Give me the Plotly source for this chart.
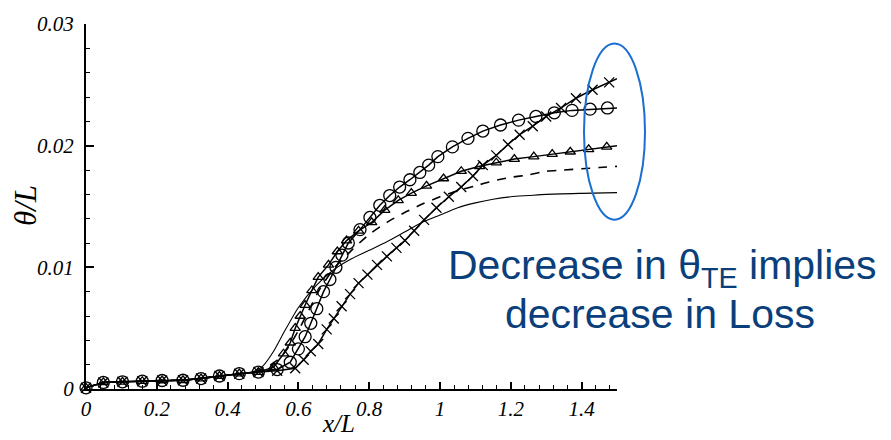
import plotly.graph_objects as go

# ---------------- data ----------------
x_thin = [0.0, 0.05, 0.1, 0.15, 0.2, 0.25, 0.3, 0.35, 0.4, 0.45, 0.48, 0.5, 0.53, 0.56, 0.6, 0.65, 0.7, 0.75, 0.8,
          0.85, 0.9, 0.95, 1.0, 1.05, 1.1, 1.15, 1.2, 1.25, 1.3, 1.4, 1.5]
y_thin = [0.0001, 0.00052, 0.0006, 0.00064, 0.00069, 0.00072, 0.0008, 0.00098, 0.00115, 0.0013, 0.0015, 0.0019,
          0.0031, 0.0047, 0.0067, 0.0085, 0.0098, 0.0107, 0.0114, 0.0121, 0.0129, 0.0137, 0.0143, 0.0149, 0.0153,
          0.0156, 0.0158, 0.0159, 0.0160, 0.01608, 0.01614]

x_dash = [0.0, 0.05, 0.1, 0.15, 0.2, 0.25, 0.3, 0.35, 0.4, 0.45, 0.5, 0.55, 0.58, 0.6, 0.63, 0.66, 0.7, 0.75, 0.8,
          0.85, 0.9, 0.95, 1.0, 1.05, 1.1, 1.15, 1.2, 1.25, 1.3, 1.35, 1.4, 1.45, 1.5]
y_dash = [0.0001, 0.00052, 0.0006, 0.00064, 0.00069, 0.00072, 0.0008, 0.00098, 0.00115, 0.0013, 0.0016, 0.0026,
          0.0038, 0.0048, 0.0065, 0.0082, 0.0099, 0.0114, 0.0127, 0.0137, 0.0145, 0.0152, 0.0158, 0.0163, 0.0167,
          0.0171, 0.0174, 0.0176, 0.0179, 0.0180, 0.0181, 0.0182, 0.0183]

x_tri = [0.0, 0.049, 0.103, 0.159, 0.215, 0.274, 0.325, 0.377, 0.433, 0.487, 0.53, 0.558, 0.577, 0.591, 0.605,
         0.619, 0.638, 0.656, 0.685, 0.71, 0.736, 0.77, 0.807, 0.844, 0.882, 0.919, 0.962, 1.01, 1.06, 1.112,
         1.159, 1.21, 1.265, 1.317, 1.368, 1.42, 1.471, 1.5]
y_tri = [0.0001, 0.00054, 0.00059, 0.00064, 0.0007, 0.00072, 0.00086, 0.00107, 0.00126, 0.00139, 0.0018, 0.0029,
         0.0038, 0.0050, 0.0060, 0.0069, 0.0081, 0.0092, 0.0102, 0.0113, 0.0122, 0.0130, 0.0137, 0.0147, 0.0155,
         0.0161, 0.0167, 0.0173, 0.0179, 0.0183, 0.0186, 0.0189, 0.0191, 0.0193, 0.0195, 0.0197, 0.0199, 0.0200]

x_circ = [0.0, 0.049, 0.103, 0.159, 0.215, 0.274, 0.325, 0.377, 0.433, 0.487, 0.54, 0.577, 0.6, 0.619, 0.635,
          0.652, 0.671, 0.689, 0.706, 0.723, 0.741, 0.774, 0.802, 0.83, 0.858, 0.886, 0.915, 0.943, 0.968, 0.994,
          1.035, 1.079, 1.121, 1.171, 1.222, 1.271, 1.323, 1.373, 1.424, 1.473, 1.5]
y_circ = [0.0001, 0.00054, 0.00059, 0.00064, 0.0007, 0.00072, 0.00086, 0.00107, 0.00126, 0.00139, 0.0016, 0.0022,
          0.0033, 0.0043, 0.0054, 0.0066, 0.0080, 0.0090, 0.0100, 0.0110, 0.0120, 0.0131, 0.0141, 0.0151, 0.0159,
          0.0166, 0.0172, 0.0178, 0.0184, 0.0191, 0.0199, 0.0206, 0.0212, 0.0217, 0.0221, 0.0224, 0.0227, 0.0229,
          0.0230, 0.0231, 0.0231]

x_cross = [0.0, 0.049, 0.103, 0.159, 0.215, 0.274, 0.325, 0.377, 0.433, 0.487, 0.54, 0.591, 0.615, 0.635, 0.656,
           0.68, 0.70, 0.722, 0.746, 0.77, 0.795, 0.822, 0.85, 0.877, 0.901, 0.927, 0.955, 0.99, 1.025, 1.06,
           1.093, 1.121, 1.159, 1.192, 1.225, 1.262, 1.3, 1.342, 1.384, 1.431, 1.478, 1.5]
y_cross = [0.0001, 0.00054, 0.00059, 0.00064, 0.0007, 0.00072, 0.00086, 0.00107, 0.00126, 0.00139, 0.0015, 0.0017,
           0.0024, 0.0031, 0.0037, 0.0049, 0.0058, 0.0068, 0.0078, 0.0087, 0.0094, 0.0102, 0.0109, 0.0116, 0.0122,
           0.0130, 0.0139, 0.0149, 0.0158, 0.0166, 0.0175, 0.0184, 0.0192, 0.0201, 0.0209, 0.0216, 0.0224, 0.0231,
           0.0239, 0.0246, 0.0252, 0.0255]

x_tickvals = [0, 0.2, 0.4, 0.6, 0.8, 1.0, 1.2, 1.4]
x_ticktext = ["0", "0.2", "0.4", "0.6", "0.8", "1", "1.2", "1.4"]
y_tickvals = [0, 0.01, 0.02, 0.03]
y_ticktext = ["0", "0.01", "0.02", "0.03"]

note_line1 = "Decrease in θ<sub>TE</sub> implies"
note_line2 = "decrease in Loss"

# ---------------- figure ----------------
W, H = 891, 440
L, R, T, B = 86, 274, 16, 51
PW, PH = W - L - R, H - T - B


def px_x(p):
    return (p - L) / PW


def px_y(p):
    return (H - B - p) / PH


fig = go.Figure()

fig.add_trace(go.Scatter(x=x_thin, y=y_thin, mode="lines", line=dict(color="black", width=1.1, shape="spline", smoothing=0.6),
                         cliponaxis=False, showlegend=False))
fig.add_trace(go.Scatter(x=x_dash, y=y_dash, mode="lines",
                         line=dict(color="black", width=1.6, dash="9px,8px", shape="spline", smoothing=0.6),
                         cliponaxis=False, showlegend=False))

for xs, ys, sym, size in [(x_tri, y_tri, "triangle-up-open", 9),
                          (x_circ, y_circ, "circle-open", 12),
                          (x_cross, y_cross, "x-thin-open", 10)]:
    fig.add_trace(go.Scatter(x=xs, y=ys, mode="lines", line=dict(color="black", width=1.5),
                             cliponaxis=False, showlegend=False))
    fig.add_trace(go.Scatter(x=xs[:-1], y=ys[:-1], mode="markers",
                             marker=dict(symbol=sym, size=size, color="black", line=dict(color="black", width=1.3)),
                             cliponaxis=False, showlegend=False))

tickfont = dict(family="Liberation Serif", size=21, color="black", style="italic")

fig.update_xaxes(range=[0, 1.5], showline=True, linewidth=2, linecolor="black", showgrid=False, zeroline=False,
                 tickvals=x_tickvals, ticktext=x_ticktext, ticks="inside", ticklen=7, tickwidth=1.5,
                 tickcolor="black", tickfont=tickfont, ticklabelstandoff=0,
                 minor=dict(ticks="inside", ticklen=4, tickwidth=1, tickcolor="black", dtick=0.04, tick0=0))
fig.update_yaxes(range=[0, 0.03], showline=True, linewidth=2, linecolor="black", showgrid=False, zeroline=False,
                 tickvals=y_tickvals, ticktext=y_ticktext, ticks="inside", ticklen=8, tickwidth=1.5,
                 tickcolor="black", tickfont=tickfont, ticklabelstandoff=6,
                 minor=dict(ticks="inside", ticklen=4, tickwidth=1, tickcolor="black", dtick=0.002, tick0=0))

annos = [
    dict(text="<i>x/L</i>", x=px_x(338), y=px_y(440), xref="paper", yref="paper", showarrow=False,
         font=dict(family="Liberation Serif", size=25, color="black"), xanchor="center", yanchor="bottom"),
    dict(text="<i>θ/L</i>", x=px_x(25), y=px_y(202), xref="paper", yref="paper", showarrow=False, textangle=-90,
         font=dict(family="Liberation Serif", size=31, color="black"), xanchor="center", yanchor="middle"),
    dict(text=note_line1, x=px_x(662), y=px_y(265), xref="paper", yref="paper", showarrow=False,
         font=dict(family="Liberation Sans", size=41, color="#0b3f7c"), xanchor="center", yanchor="middle"),
    dict(text=note_line2, x=px_x(660), y=px_y(312), xref="paper", yref="paper", showarrow=False,
         font=dict(family="Liberation Sans", size=41, color="#0b3f7c"), xanchor="center", yanchor="middle"),
]

fig.update_layout(
    width=W, height=H, margin=dict(l=L, r=R, t=T, b=B, pad=0),
    paper_bgcolor="white", plot_bgcolor="white",
    annotations=annos,
    shapes=[dict(type="circle", xref="paper", yref="paper",
                 x0=px_x(584), x1=px_x(645), y0=px_y(216), y1=px_y(36),
                 line=dict(color="#1a6fd1", width=2))],
)

fig.write_html("out.html")
